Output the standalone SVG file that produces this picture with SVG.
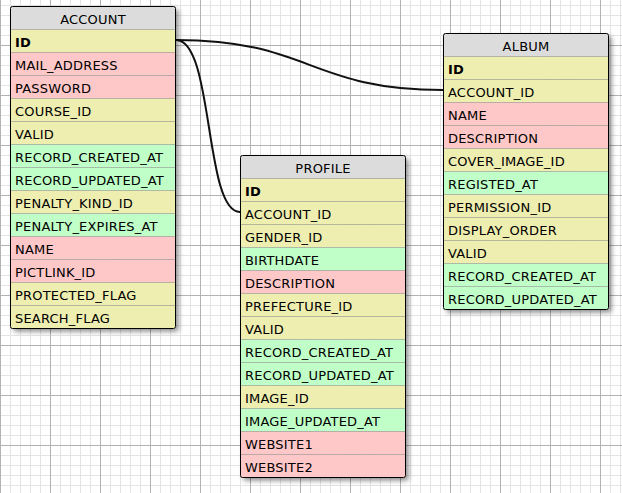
<svg xmlns="http://www.w3.org/2000/svg" width="622" height="493" viewBox="0 0 622 493">
<defs>
<pattern id="minor" x="0" y="5" width="10" height="10" patternUnits="userSpaceOnUse"><path d="M0 0.5H10M0.5 0V10" stroke="#e4e4e4" stroke-width="1" fill="none"/></pattern>
<pattern id="major" x="0" y="45" width="50" height="50" patternUnits="userSpaceOnUse"><path d="M0 0.5H50M0.5 0V50" stroke="#b2b2b2" stroke-width="1" fill="none"/></pattern>
<filter id="sh" x="-10%" y="-10%" width="130%" height="130%"><feDropShadow dx="3" dy="3" stdDeviation="2.5" flood-color="#000" flood-opacity="0.45"/></filter>
</defs>
<style>
.h{fill:#dcdcdc}.y{fill:#eeeeb0}.p{fill:#ffc8c8}.g{fill:#c0ffc8}
.d{stroke:#7a7a7a;stroke-width:1;stroke-dasharray:1 1}
.o{fill:none;stroke:#000;stroke-width:1}
.bg{fill:#fff;filter:url(#sh)}
text{font-family:"DejaVu Sans",Verdana,sans-serif;font-size:13px;fill:#000;letter-spacing:0.2px}
.t{text-anchor:middle}
.b{font-weight:bold}
.c{fill:none;stroke:#111;stroke-width:2}
</style>
<rect width="622" height="493" fill="#fff"/>
<rect width="622" height="493" fill="url(#minor)"/>
<rect width="622" height="493" fill="url(#major)"/>

<g id="connectors">
<path class="c" d="M176 40C310 40 310 90 443 90"/>
<path class="c" d="M176 40C214 40 204 212 240 212"/>
</g>

<g id="table-account" transform="translate(10.5 6.5)">
<rect class="bg" width="165" height="322" rx="2"/>
<rect class="h" width="165" height="23"/>
<rect class="y" y="23" width="165" height="23"/>
<rect class="p" y="46" width="165" height="23"/>
<rect class="p" y="69" width="165" height="23"/>
<rect class="y" y="92" width="165" height="23"/>
<rect class="y" y="115" width="165" height="23"/>
<rect class="g" y="138" width="165" height="23"/>
<rect class="g" y="161" width="165" height="23"/>
<rect class="y" y="184" width="165" height="23"/>
<rect class="g" y="207" width="165" height="23"/>
<rect class="p" y="230" width="165" height="23"/>
<rect class="p" y="253" width="165" height="23"/>
<rect class="y" y="276" width="165" height="23"/>
<rect class="y" y="299" width="165" height="23"/>
<path class="d" d="M0 23H165M0 46H165M0 69H165M0 92H165M0 115H165M0 138H165M0 161H165M0 184H165M0 207H165M0 230H165M0 253H165M0 276H165M0 299H165"/>
<rect class="o" width="165" height="322" rx="2"/>
<text class="t" x="82.5" y="17">ACCOUNT</text>
<text class="b" x="4.5" y="40">ID</text>
<text x="4.5" y="63">MAIL_ADDRESS</text>
<text x="4.5" y="86">PASSWORD</text>
<text x="4.5" y="109">COURSE_ID</text>
<text x="4.5" y="132">VALID</text>
<text x="4.5" y="155">RECORD_CREATED_AT</text>
<text x="4.5" y="178">RECORD_UPDATED_AT</text>
<text x="4.5" y="201">PENALTY_KIND_ID</text>
<text x="4.5" y="224">PENALTY_EXPIRES_AT</text>
<text x="4.5" y="247">NAME</text>
<text x="4.5" y="270">PICTLINK_ID</text>
<text x="4.5" y="293">PROTECTED_FLAG</text>
<text x="4.5" y="316">SEARCH_FLAG</text>
</g>

<g id="table-profile" transform="translate(240.5 155.5)">
<rect class="bg" width="165" height="322" rx="2"/>
<rect class="h" width="165" height="23"/>
<rect class="y" y="23" width="165" height="23"/>
<rect class="y" y="46" width="165" height="23"/>
<rect class="y" y="69" width="165" height="23"/>
<rect class="g" y="92" width="165" height="23"/>
<rect class="p" y="115" width="165" height="23"/>
<rect class="y" y="138" width="165" height="23"/>
<rect class="y" y="161" width="165" height="23"/>
<rect class="g" y="184" width="165" height="23"/>
<rect class="g" y="207" width="165" height="23"/>
<rect class="y" y="230" width="165" height="23"/>
<rect class="g" y="253" width="165" height="23"/>
<rect class="p" y="276" width="165" height="23"/>
<rect class="p" y="299" width="165" height="23"/>
<path class="d" d="M0 23H165M0 46H165M0 69H165M0 92H165M0 115H165M0 138H165M0 161H165M0 184H165M0 207H165M0 230H165M0 253H165M0 276H165M0 299H165"/>
<rect class="o" width="165" height="322" rx="2"/>
<text class="t" x="82.5" y="17">PROFILE</text>
<text class="b" x="4.5" y="40">ID</text>
<text x="4.5" y="63">ACCOUNT_ID</text>
<text x="4.5" y="86">GENDER_ID</text>
<text x="4.5" y="109">BIRTHDATE</text>
<text x="4.5" y="132">DESCRIPTION</text>
<text x="4.5" y="155">PREFECTURE_ID</text>
<text x="4.5" y="178">VALID</text>
<text x="4.5" y="201">RECORD_CREATED_AT</text>
<text x="4.5" y="224">RECORD_UPDATED_AT</text>
<text x="4.5" y="247">IMAGE_ID</text>
<text x="4.5" y="270">IMAGE_UPDATED_AT</text>
<text x="4.5" y="293">WEBSITE1</text>
<text x="4.5" y="316">WEBSITE2</text>
</g>

<g id="table-album" transform="translate(443.5 33.5)">
<rect class="bg" width="165" height="276" rx="2"/>
<rect class="h" width="165" height="23"/>
<rect class="y" y="23" width="165" height="23"/>
<rect class="y" y="46" width="165" height="23"/>
<rect class="p" y="69" width="165" height="23"/>
<rect class="p" y="92" width="165" height="23"/>
<rect class="y" y="115" width="165" height="23"/>
<rect class="g" y="138" width="165" height="23"/>
<rect class="y" y="161" width="165" height="23"/>
<rect class="y" y="184" width="165" height="23"/>
<rect class="y" y="207" width="165" height="23"/>
<rect class="g" y="230" width="165" height="23"/>
<rect class="g" y="253" width="165" height="23"/>
<path class="d" d="M0 23H165M0 46H165M0 69H165M0 92H165M0 115H165M0 138H165M0 161H165M0 184H165M0 207H165M0 230H165M0 253H165"/>
<rect class="o" width="165" height="276" rx="2"/>
<text class="t" x="82.5" y="17">ALBUM</text>
<text class="b" x="4.5" y="40">ID</text>
<text x="4.5" y="63">ACCOUNT_ID</text>
<text x="4.5" y="86">NAME</text>
<text x="4.5" y="109">DESCRIPTION</text>
<text x="4.5" y="132">COVER_IMAGE_ID</text>
<text x="4.5" y="155">REGISTED_AT</text>
<text x="4.5" y="178">PERMISSION_ID</text>
<text x="4.5" y="201">DISPLAY_ORDER</text>
<text x="4.5" y="224">VALID</text>
<text x="4.5" y="247">RECORD_CREATED_AT</text>
<text x="4.5" y="270">RECORD_UPDATED_AT</text>
</g>
</svg>
